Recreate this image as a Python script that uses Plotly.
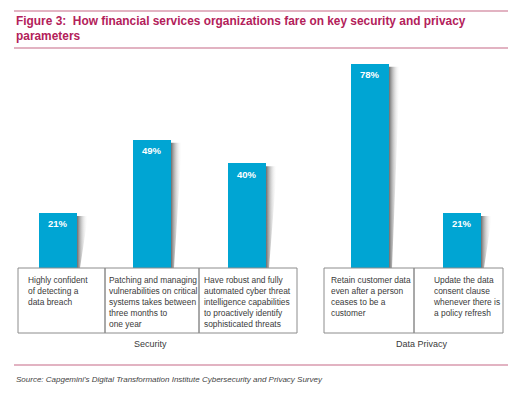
import plotly.graph_objects as go

# ---- data ----
labels = [
    "Highly confident<br>of detecting a<br>data breach",
    "Patching and managing<br>vulnerabilities on critical<br>systems takes between<br>three months to<br>one year",
    "Have robust and fully<br>automated cyber threat<br>intelligence capabilities<br>to proactively identify<br>sophisticated threats",
    "Retain customer data<br>even after a person<br>ceases to be a<br>customer",
    "Update the data<br>consent clause<br>whenever there is<br>a policy refresh",
]
values = [21, 49, 40, 78, 21]
groups = ["Security", "Security", "Security", "Data Privacy", "Data Privacy"]
group_names = ["Security", "Data Privacy"]

# ---- layout helpers (pixel-aligned axes) ----
W, H = 521, 400
BASE_PX = 268          # pixel row of the 0% baseline
PX_PER_PCT = 2.62
y_top = BASE_PX / PX_PER_PCT
y_bot = (BASE_PX - H) / PX_PER_PCT

def py(p):  # pixel row -> y data value
    return (BASE_PX - p) / PX_PER_PCT

bar_centers = [58, 152, 247, 370, 462]
bar_w = 38
box_edges = [(18, 105), (105, 199), (199, 297), (324, 414), (414, 503)]
text_x = [26, 107, 202, 329, 431]
group_label_x = [150, 422]

BLUE = "#00A5D3"
RED = "#B3215A"
PINK = "#D99AAE"
TXT = "#3a3a3a"
NARROW = "Liberation Sans Narrow, Arial Narrow, Liberation Sans, sans-serif"

fig = go.Figure()

# shadows
for xc, v in zip(bar_centers, values):
    x0 = xc + bar_w / 2
    top = v
    xs = [x0, x0 + 11, x0 + 3, x0, x0]
    ys = [top - 1.2, top - 1.2, 0, 0, top - 1.2]
    fig.add_trace(go.Scatter(
        x=xs, y=ys, mode="lines", fill="toself", line=dict(width=0),
        fillgradient=dict(type="horizontal",
                          colorscale=[[0, "rgba(100,100,100,0.95)"], [1, "rgba(255,255,255,0)"]]),
        hoverinfo="skip", showlegend=False))

fig.add_trace(go.Bar(
    x=bar_centers, y=values, width=bar_w,
    marker=dict(color=BLUE, line=dict(width=0)),
    showlegend=False, hoverinfo="skip"))

shapes = []
for (a, b) in box_edges:
    shapes.append(dict(type="rect", xref="x", yref="y", x0=a, x1=b, y0=py(268), y1=py(333),
                       line=dict(color="#8c8c8c", width=1), fillcolor="rgba(0,0,0,0)", layer="above"))
for yy in [11, 48, 365]:
    shapes.append(dict(type="line", xref="x", yref="y", x0=14, x1=508, y0=py(yy), y1=py(yy),
                       line=dict(color=PINK, width=1.6)))

annotations = []
for xc, v in zip(bar_centers, values):
    annotations.append(dict(x=xc, y=v, xref="x", yref="y", text=f"<b>{v}%</b>", showarrow=False,
                            xanchor="center", yanchor="middle", yshift=-11,
                            font=dict(family=NARROW, size=9.5, color="white")))
for tx, lab in zip(text_x, labels):
    annotations.append(dict(x=tx, y=py(273), xref="x", yref="y", text=lab, showarrow=False,
                            xanchor="left", yanchor="top", align="left",
                            font=dict(family=NARROW, size=8.4, color=TXT)))
for gx, g in zip(group_label_x, group_names):
    annotations.append(dict(x=gx, y=py(344), xref="x", yref="y", text=g, showarrow=False,
                            xanchor="center", yanchor="middle",
                            font=dict(family=NARROW, size=9, color=TXT)))
annotations.append(dict(x=14, y=py(28), xref="x", yref="y",
                        text="<b>Figure 3:  How financial services organizations fare on key security and privacy<br>parameters</b>",
                        showarrow=False, xanchor="left", yanchor="middle", align="left",
                        font=dict(family="Liberation Sans, Arial, sans-serif", size=11.9, color=RED)))
annotations.append(dict(x=14, y=py(379), xref="x", yref="y",
                        text="<i>Source: Capgemini's Digital Transformation Institute Cybersecurity and Privacy Survey</i>",
                        showarrow=False, xanchor="left", yanchor="middle",
                        font=dict(family="Liberation Sans, Arial, sans-serif", size=8, color="#444")))

fig.update_layout(
    width=W, height=H, margin=dict(l=0, r=0, t=0, b=0),
    paper_bgcolor="white", plot_bgcolor="white",
    xaxis=dict(range=[0, W], visible=False, fixedrange=True),
    yaxis=dict(range=[y_bot, y_top], visible=False, fixedrange=True),
    shapes=shapes, annotations=annotations, showlegend=False, bargap=0,
)

fig.write_html("out.html", config={"displayModeBar": False},
               post_script="document.body.style.margin='0';document.body.style.overflow='hidden';")
